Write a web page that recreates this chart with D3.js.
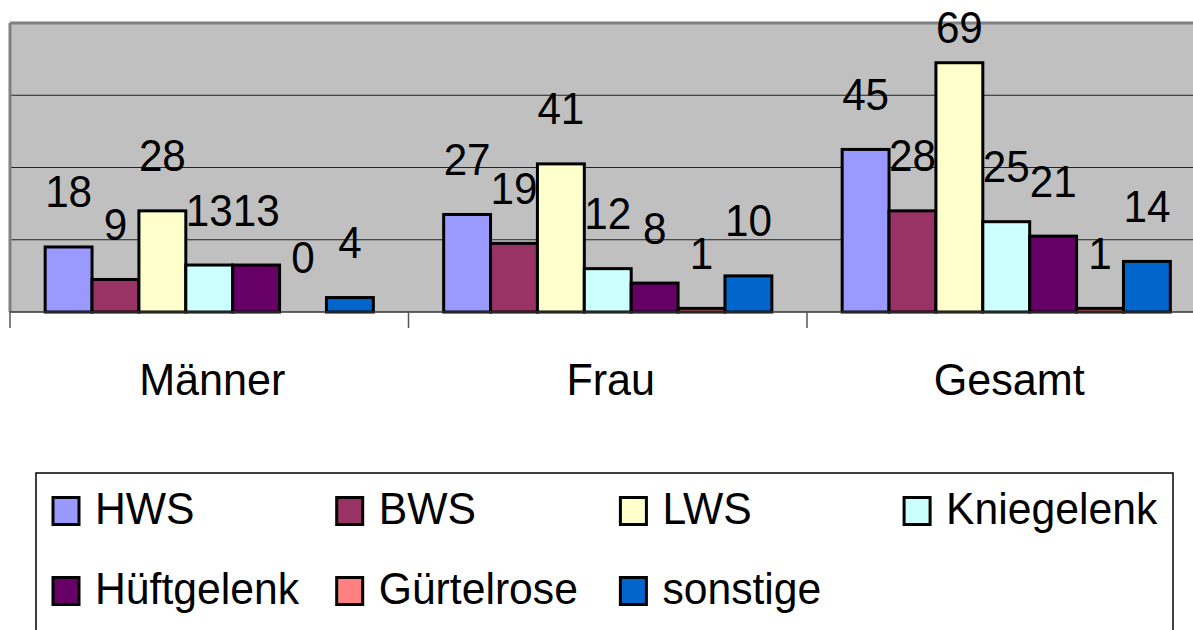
<!DOCTYPE html>
<html>
<head>
<meta charset="utf-8">
<script src="https://cdn.jsdelivr.net/npm/d3@7"></script>
<style>
  body { margin: 0; background: #fff; }
  text { font-family: "Liberation Sans", Arial, sans-serif; }
</style>
</head>
<body>
<script>
// Daten
const categories = ["Männer", "Frau", "Gesamt"];
const seriesNames = ["HWS", "BWS", "LWS", "Kniegelenk", "Hüftgelenk", "Gürtelrose", "sonstige"];
const hws = [18, 27, 45];
const bws = [9, 19, 28];
const lws = [28, 41, 69];
const kniegelenk = [13, 12, 25];
const hueftgelenk = [13, 8, 21];
const guertelrose = [0, 1, 1];
const sonstige = [4, 10, 14];
const yTicks = [0, 20, 40, 60, 80];

const seriesValues = [hws, bws, lws, kniegelenk, hueftgelenk, guertelrose, sonstige];
const colors = ["#9999FF", "#993366", "#FFFFCC", "#CCFFFF", "#660066", "#FF8080", "#0066CC"];

const W = 1193, H = 630;
const plotLeft = 10, plotTop = 23, plotBottom = 312, catWidth = 398.5;

const svg = d3.select("body")
    .append("svg")
    .attr("width", W)
    .attr("height", H);

const x0 = d3.scaleBand()
    .domain(categories)
    .range([plotLeft, plotLeft + catWidth * categories.length])
    .padding(0);

const x1 = d3.scaleBand()
    .domain(seriesNames)
    .range([0, x0.bandwidth()])
    .paddingInner(0)
    .paddingOuter(0.75);

const y = d3.scaleLinear()
    .domain([0, d3.max(yTicks)])
    .range([plotBottom, plotTop]);

// Hintergrund
svg.append("rect")
    .attr("x", plotLeft)
    .attr("y", plotTop)
    .attr("width", x0.range()[1] - plotLeft)
    .attr("height", plotBottom - plotTop)
    .attr("fill", "#C0C0C0");

// Gitterlinien
svg.selectAll("line.grid")
    .data(yTicks.slice(1, -1))
    .enter()
    .append("line")
    .attr("class", "grid")
    .attr("x1", plotLeft)
    .attr("x2", x0.range()[1])
    .attr("y1", function (d) { return y(d); })
    .attr("y2", function (d) { return y(d); })
    .attr("stroke", "#222")
    .attr("stroke-width", 1);

// Rahmen oben und links
svg.append("line")
    .attr("x1", plotLeft).attr("x2", x0.range()[1])
    .attr("y1", y(80)).attr("y2", y(80))
    .attr("stroke", "#808080").attr("stroke-width", 3);
svg.append("line")
    .attr("x1", plotLeft).attr("x2", plotLeft)
    .attr("y1", y(80)).attr("y2", plotBottom)
    .attr("stroke", "#808080").attr("stroke-width", 3);

// Balken
const rows = [];
categories.forEach(function (c, ci) {
    seriesNames.forEach(function (s, si) {
        rows.push({cat: c, series: s, value: seriesValues[si][ci], color: colors[si]});
    });
});

svg.selectAll("rect.bar")
    .data(rows.filter(function (d) { return d.value > 0; }))
    .enter()
    .append("rect")
    .attr("class", "bar")
    .attr("x", function (d) { return x0(d.cat) + x1(d.series); })
    .attr("y", function (d) { return y(d.value); })
    .attr("width", x1.bandwidth())
    .attr("height", function (d) { return y(0) - y(d.value); })
    .attr("fill", function (d) { return d.color; })
    .attr("stroke", "#000")
    .attr("stroke-width", 3);

// X-Achse
const xAxis = svg.append("g")
    .attr("transform", "translate(0," + plotBottom + ")");
xAxis.append("line")
    .attr("x1", plotLeft).attr("x2", x0.range()[1])
    .attr("stroke", "#333").attr("stroke-width", 1.5);
xAxis.selectAll("line.tick")
    .data(categories)
    .enter()
    .append("line")
    .attr("class", "tick")
    .attr("x1", function (d) { return x0(d); })
    .attr("x2", function (d) { return x0(d); })
    .attr("y1", 0).attr("y2", 16)
    .attr("stroke", "#555").attr("stroke-width", 1.5);

svg.selectAll("text.cat")
    .data(categories)
    .enter()
    .append("text")
    .attr("class", "cat")
    .attr("transform", function (d) {
        return "translate(" + (x0(d) + x0.bandwidth() / 2 + 3) + ",395) scale(0.98,1)";
    })
    .attr("text-anchor", "middle")
    .attr("font-size", "44px")
    .attr("fill", "#000")
    .text(function (d) { return d; });

// Wertebeschriftung (bleibt innerhalb des Diagramms)
svg.selectAll("text.val")
    .data(rows)
    .enter()
    .append("text")
    .attr("class", "val")
    .attr("transform", function (d) {
        const ty = Math.max(y(d.value) - 39.5, 43);
        return "translate(" + (x0(d.cat) + x1(d.series) + x1.bandwidth() / 2) + "," + ty + ") scale(0.96,1)";
    })
    .attr("text-anchor", "middle")
    .attr("font-size", "44px")
    .attr("fill", "#000")
    .text(function (d) { return d.value; });

// Legende
svg.append("rect")
    .attr("x", 36)
    .attr("y", 473)
    .attr("width", 1137)
    .attr("height", 200)
    .attr("fill", "#fff")
    .attr("stroke", "#000")
    .attr("stroke-width", 1.5);

const legend = svg.selectAll("g.legend")
    .data(seriesNames)
    .enter()
    .append("g")
    .attr("class", "legend")
    .attr("transform", function (d, i) {
        return "translate(" + (52 + (i % 4) * 283.7) + "," + (523.5 + Math.floor(i / 4) * 80) + ")";
    });

legend.append("rect")
    .attr("x", 1)
    .attr("y", -26)
    .attr("width", 26)
    .attr("height", 27)
    .attr("fill", function (d, i) { return colors[i]; })
    .attr("stroke", "#000")
    .attr("stroke-width", 3);

legend.append("text")
    .attr("transform", "translate(43,0) scale(0.97,1)")
    .attr("font-size", "44px")
    .attr("fill", "#000")
    .text(function (d) { return d; });
</script>
</body>
</html>
